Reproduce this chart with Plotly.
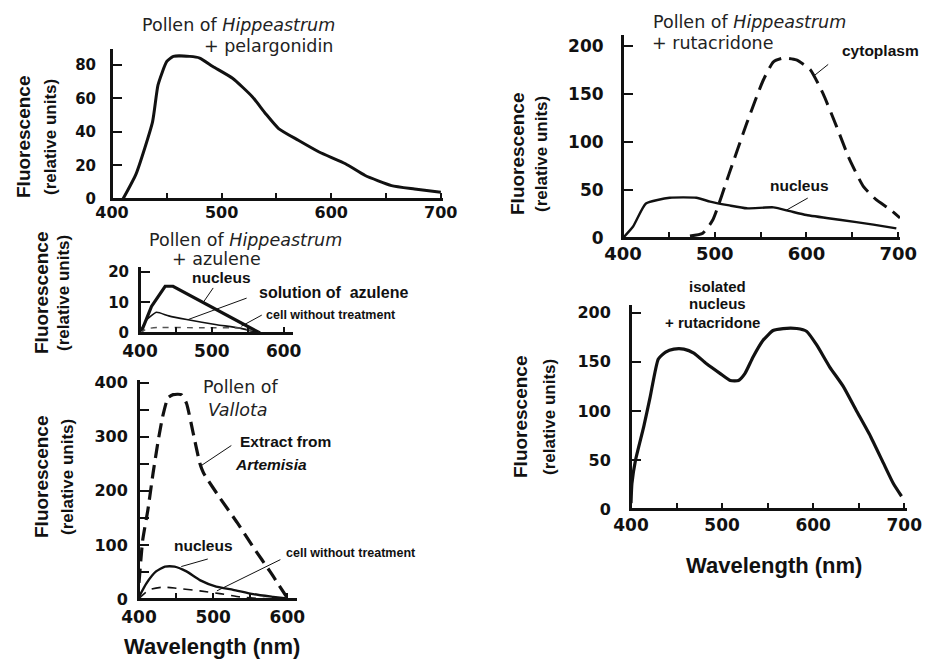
import plotly.graph_objects as go

W, H = 931, 659

# ---------------- data (wavelength nm, fluorescence relative units) -------------
# Panel A: Hippeastrum + pelargonidin
a_wl = [410, 422, 437, 442, 450, 456, 471, 480, 492, 510, 528, 540, 552, 570, 589, 613, 631, 655, 676, 700]
a_fl = [0, 15, 46, 68, 82, 85, 85, 84, 79, 72, 61, 51, 42, 35, 28, 21, 14, 8, 6, 4]

# Panel B: Hippeastrum + azulene
b_wl_nuc = [402, 416, 435, 446, 567]
b_fl_nuc = [0.5, 8.7, 15.3, 15.3, 0]
b_wl_sol = [400, 410, 423, 440, 465, 507, 539, 565]
b_fl_sol = [0.5, 4.5, 6.8, 5.6, 4.4, 2.7, 1.6, 0]
b_wl_cell = [400, 410, 425, 485, 540, 567]
b_fl_cell = [0, 1.4, 1.8, 1.7, 1.6, 0]

# Panel C: Vallota
c_wl_art = [400, 405, 412, 419, 426, 432, 439, 446, 457, 464, 473, 482, 487, 509, 532, 554, 577, 599]
c_fl_art = [30, 109, 165, 233, 294, 338, 372, 378, 378, 362, 307, 251, 233, 187, 142, 96, 50, 4]
c_wl_nuc = [400, 410, 423, 435, 448, 464, 482, 504, 527, 554, 581, 599]
c_fl_nuc = [4, 29, 51, 60, 60, 51, 35, 23, 17, 9, 4, 1]
c_wl_cell = [400, 414, 432, 450, 482, 509, 536, 563, 599]
c_fl_cell = [1, 17, 22, 20, 15, 10, 4, 1, 0]

# Panel D: Hippeastrum + rutacridone
d_wl_nuc = [400, 411, 425, 451, 480, 495, 516, 535, 564, 582, 600, 636, 673, 698]
d_fl_nuc = [0, 12, 36, 42, 42, 38, 34, 31, 32, 28, 24, 19, 14, 10]
d_wl_cyt = [473, 487, 498, 516, 535, 553, 564, 575, 589, 604, 618, 633, 647, 662, 676, 691, 702]
d_fl_cyt = [2, 5, 19, 68, 120, 165, 184, 188, 186, 176, 151, 116, 82, 54, 40, 30, 21]

# Panel E: isolated nucleus + rutacridone
e_wl = [400, 401, 405, 414, 421, 430, 438, 447, 458, 469, 483, 498, 509, 518, 525, 534, 545, 556,
        567, 582, 593, 604, 618, 633, 647, 663, 677, 688, 697]
e_fl = [6, 26, 50, 84, 114, 153, 160, 163, 163, 159, 148, 138, 131, 131, 138, 155, 172, 182,
        184, 184, 181, 167, 145, 125, 101, 74, 47, 26, 13]

x_ticks = [400, 450, 500, 550, 600, 650, 700]
x_ticktext = ["400", "", "500", "", "600", "", "700"]
x_ticks_short = [400, 450, 500, 550, 600]
x_ticktext_short = ["400", "", "500", "", "600"]
a_yticks = [0, 20, 40, 60, 80]
b_yticks = [0, 10, 20]
c_yticks = [0, 50, 100, 150, 200, 250, 300, 350, 400]
c_yticktext = ["0", "", "100", "", "200", "", "300", "", "400"]
de_yticks = [0, 50, 100, 150, 200]

y_title1 = "Fluorescence"
y_title2 = "(relative units)"
x_title = "Wavelength (nm)"

# ---------------- helpers -------------------------------------------------------
TICKFONT = "DejaVu Sans"
TXT = "Liberation Sans, Arial, sans-serif"
TITLEFONT = "DejaVu Sans, sans-serif"
INK = "#111111"


def xdom(x0, x1):
    return [x0 / W, x1 / W]


def ydom(top, bottom):
    return [1 - bottom / H, 1 - top / H]


def xaxis(dom, rng, anchor, size, standoff, tickvals=x_ticks, ticktext=x_ticktext):
    return dict(domain=dom, range=rng, anchor=anchor, showline=True, linecolor=INK,
                linewidth=2, ticks="inside", ticklen=6, tickwidth=2, tickcolor=INK,
                tickvals=tickvals, ticktext=ticktext, showgrid=False, zeroline=False,
                automargin=False,
                tickfont=dict(family=TICKFONT, size=size, color=INK, weight="bold"),
                ticklabelstandoff=standoff, fixedrange=True)


def yaxis(dom, rng, anchor, size, standoff, tickvals, ticktext=None):
    d = dict(domain=dom, range=rng, anchor=anchor, showline=True, linecolor=INK,
             linewidth=2, ticks="inside", ticklen=10, tickwidth=2, tickcolor=INK,
             tickvals=tickvals, showgrid=False, zeroline=False,
             automargin=False,
             tickfont=dict(family=TICKFONT, size=size, color=INK, weight="bold"),
             ticklabelstandoff=standoff, fixedrange=True)
    if ticktext is not None:
        d["ticktext"] = ticktext
    return d


fig = go.Figure()


def line(x, y, ax, width, dash="solid", color=INK, smooth=True):
    fig.add_trace(go.Scatter(
        x=x, y=y, mode="lines", xaxis=ax[0], yaxis=ax[1], hoverinfo="skip",
        line=dict(color=color, width=width, dash=dash,
                  shape="spline" if smooth else "linear", smoothing=0.5)))


# Panel A
line(a_wl, a_fl, ("x", "y"), 3)
# Panel B
line(b_wl_nuc, b_fl_nuc, ("x2", "y2"), 3.2, smooth=False)
line(b_wl_sol, b_fl_sol, ("x2", "y2"), 1.6)
line(b_wl_cell, b_fl_cell, ("x2", "y2"), 1.4, dash="6px,6px", color="#555555")
# Panel C
line(c_wl_art, c_fl_art, ("x3", "y3"), 3.2, dash="14px,7px")
line(c_wl_nuc, c_fl_nuc, ("x3", "y3"), 2.4)
line(c_wl_cell, c_fl_cell, ("x3", "y3"), 1.6, dash="9px,7px")
# Panel D
line(d_wl_nuc, d_fl_nuc, ("x4", "y4"), 2.4)
line(d_wl_cyt, d_fl_cyt, ("x4", "y4"), 3, dash="16px,8px")
# Panel E
line(e_wl, e_fl, ("x5", "y5"), 3.2)

fig.update_layout(
    width=W, height=H, margin=dict(l=0, r=0, t=0, b=0, pad=0, autoexpand=False),
    paper_bgcolor="white", plot_bgcolor="white", showlegend=False,
    xaxis=xaxis(xdom(112, 443), [400, 702], "y", 16, -2),
    yaxis=yaxis(ydom(49, 199), [0, 89.4], "x", 15, 11, a_yticks),
    xaxis2=xaxis(xdom(140, 293), [400, 613], "y2", 17, 2,
                 tickvals=x_ticks_short, ticktext=x_ticktext_short),
    yaxis2=yaxis(ydom(267, 333), [0, 21.6], "x2", 15, 6, b_yticks),
    xaxis3=xaxis(xdom(139, 297), [400, 613], "y3", 17, 2,
                 tickvals=x_ticks_short, ticktext=x_ticktext_short),
    yaxis3=yaxis(ydom(380, 599), [0, 405], "x3", 16, 6, c_yticks, c_yticktext),
    xaxis4=xaxis(xdom(623, 900), [400, 702], "y4", 18, -2),
    yaxis4=yaxis(ydom(35, 238), [0, 212], "x4", 17, 14, de_yticks),
    xaxis5=xaxis(xdom(631, 907), [400, 703], "y5", 17, 0),
    yaxis5=yaxis(ydom(305, 509), [0, 208], "x5", 16, 15, de_yticks),
)

# axis lines (drawn explicitly along each subplot's domain edges)
for s in ["", "2", "3", "4", "5"]:
    for (x0, y0, x1, y1) in [(0, 0, 1, 0), (0, 0, 0, 1)]:
        fig.add_shape(type="line", xref=f"x{s} domain", yref=f"y{s} domain",
                      x0=x0, y0=y0, x1=x1, y1=y1, line=dict(color=INK, width=2))


def text(t, x, y, size, family=TXT, bold=False, angle=0, color=INK):
    fig.add_annotation(text=t, x=x / W, y=1 - y / H, xref="paper", yref="paper",
                       xanchor="center", yanchor="middle", showarrow=False, textangle=angle,
                       font=dict(family=family, size=size, color=color,
                                 weight="bold" if bold else "normal"))


def leader(x, y, xr, yr, ax, ay):
    fig.add_annotation(text="", x=x, y=y, xref=xr, yref=yr, ax=ax, ay=ay,
                       showarrow=True, arrowhead=0, arrowwidth=1, arrowcolor=INK)


TITLE_C = "#222222"
# Panel titles
text("Pollen of <i>Hippeastrum</i>", 238, 25, 17.5, family=TITLEFONT, color=TITLE_C)
text("+ pelargonidin", 268, 46, 17.5, family=TITLEFONT, color=TITLE_C)
text("Pollen of <i>Hippeastrum</i>", 245, 240, 17.5, family=TITLEFONT, color=TITLE_C)
text("+ azulene", 216, 259, 17.5, family=TITLEFONT, color=TITLE_C)
text("Pollen of", 241, 387, 17.5, family=TITLEFONT, color=TITLE_C)
text("<i>Vallota</i>", 238, 410, 17.5, family=TITLEFONT, color=TITLE_C)
text("Pollen of <i>Hippeastrum</i>", 749, 22, 17.5, family=TITLEFONT, color=TITLE_C)
text("+ rutacridone", 712, 43, 17.5, family=TITLEFONT, color=TITLE_C)
text("isolated", 717, 286, 15, bold=True)
text("nucleus", 717, 304, 15, bold=True)
text("+ rutacridone", 712, 322, 15, bold=True)

# Curve labels
text("nucleus", 221, 277, 15.5, bold=True)
text("solution of  azulene", 333, 293, 16, bold=True)
text("cell without treatment", 331, 315, 12.5, bold=True)
text("Extract from", 285, 441, 15.5, bold=True)
text("<i>Artemisia</i>", 271, 464, 15.5, bold=True)
text("nucleus", 203, 545, 15.5, bold=True)
text("cell without treatment", 351, 553, 12.5, bold=True)
text("cytoplasm", 880, 50, 15.5, bold=True)
text("nucleus", 799, 185, 15.5, bold=True)

# Leader lines (head on curve, offset in pixels to the label)
leader(488, 10, "x2", "y2", 11, -16)
leader(467, 4.4, "x2", "y2", 60, -22)
leader(541, 2.2, "x2", "y2", 22, -12)
leader(482, 245, "x3", "y3", 33, -22)
leader(457, 60, "x3", "y3", 28, -8)
leader(505, 15, "x3", "y3", 65, -32)
leader(609, 170, "x4", "y4", 15, -12)
leader(578, 29, "x4", "y4", 23, -13)

# Axis titles
for (x1, x2, yc) in [(23, 50, 137), (42, 64, 293), (41, 67, 477), (518, 542, 154), (520, 549, 417)]:
    text(y_title1, x1, yc, 19, bold=True, angle=-90)
    text(y_title2, x2, yc, 17, bold=True, angle=-90)

text(x_title, 212, 646, 22, bold=True)
text(x_title, 774, 565, 22, bold=True)

fig.write_html(
    "out.html",
    config={"displayModeBar": False},
    post_script="document.body.style.margin='0';document.body.style.overflow='hidden';",
)
